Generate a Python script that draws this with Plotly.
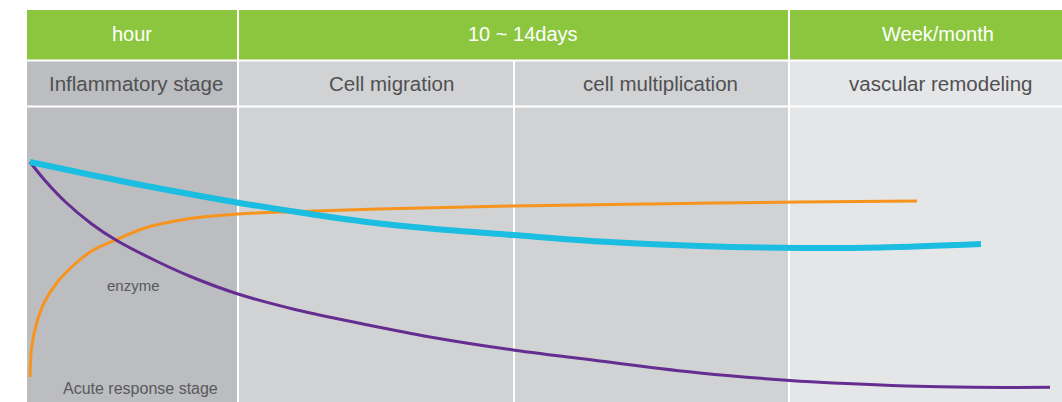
import plotly.graph_objects as go

# ---- data (x = timeline position, y = level, screen-like units) ----
header_labels = ["hour", "10 ~ 14days", "Week/month"]
header_bounds = [27, 238, 789, 1062]
header_label_x = [132, 523, 938]
stage_labels = ["Inflammatory stage", "Cell migration", "cell multiplication", "vascular remodeling"]
stage_bounds = [27, 238, 514, 789, 1062]
stage_label_x = [136, 391, 660, 940]
body_colors = ["#bcbdc0", "#d1d2d4", "#d1d2d4", "#e5e6e8"]
row_colors = ["#bcbdc0", "#d1d2d4", "#d1d2d4", "#e5e6e8"]

cyan_x = [30, 91.7, 158.3, 238.3, 297, 363, 430, 513, 600, 700, 800, 880, 981]
cyan_y = [162, 175, 188.3, 202.7, 212, 221.5, 228.5, 235, 241.5, 246, 248, 247.5, 244]

orange_x = [30, 31.7, 36.7, 45, 58.3, 75, 91.7, 116.7, 145, 191.7, 238, 300, 400, 513, 650, 800, 917]
orange_y = [377, 347, 323, 301, 281, 264, 251, 239.5, 228, 218.3, 214, 211.5, 208.5, 206, 204, 202, 201]

purple_x = [30, 45, 65, 91.7, 116.7, 158.3, 191.7, 238, 297, 363, 430, 513, 600, 700,
            790, 840, 906.7, 973, 1050]
purple_y = [162, 180.5, 201.5, 224, 240.5, 262, 277, 294, 310, 324, 337, 350, 361, 373,
            380.5, 383.3, 386, 387.3, 387.3]

notes = ["enzyme", "Acute response stage"]
notes_x = [133, 140]
notes_y = [285, 388]
notes_size = [15, 16]

FONT = "Liberation Sans, Arial, Helvetica, sans-serif"

fig = go.Figure()

shapes = []
for i in range(len(header_labels)):
    shapes.append(dict(type="rect", xref="x", yref="y", x0=header_bounds[i], x1=header_bounds[i + 1],
                       y0=10, y1=60, fillcolor="#8cc63f", line=dict(width=0), layer="below"))
for i in range(len(stage_labels)):
    shapes.append(dict(type="rect", xref="x", yref="y", x0=stage_bounds[i], x1=stage_bounds[i + 1],
                       y0=61, y1=106, fillcolor=row_colors[i], line=dict(width=0), layer="below"))
    shapes.append(dict(type="rect", xref="x", yref="y", x0=stage_bounds[i], x1=stage_bounds[i + 1],
                       y0=107, y1=402, fillcolor=body_colors[i], line=dict(width=0), layer="below"))
for b in stage_bounds[1:-1]:
    shapes.append(dict(type="line", xref="x", yref="y", x0=b, x1=b, y0=61, y1=402,
                       line=dict(color="white", width=2), layer="below"))
for b in header_bounds[1:-1]:
    shapes.append(dict(type="line", xref="x", yref="y", x0=b, x1=b, y0=10, y1=61,
                       line=dict(color="white", width=2), layer="below"))
for yb in [60.5, 106.5]:
    shapes.append(dict(type="line", xref="x", yref="y", x0=27, x1=1062, y0=yb, y1=yb,
                       line=dict(color="white", width=2), layer="below"))

fig.add_trace(go.Scatter(x=orange_x, y=orange_y, mode="lines",
                         line=dict(color="#f7941d", width=3, shape="spline", smoothing=1.0),
                         hoverinfo="skip"))
fig.add_trace(go.Scatter(x=purple_x, y=purple_y, mode="lines",
                         line=dict(color="#662d91", width=3, shape="spline", smoothing=1.0),
                         hoverinfo="skip"))
fig.add_trace(go.Scatter(x=cyan_x, y=cyan_y, mode="lines",
                         line=dict(color="#1bbde0", width=6, shape="spline", smoothing=1.0),
                         hoverinfo="skip"))

annots = []
for lab, x in zip(header_labels, header_label_x):
    annots.append(dict(x=x, y=34, xref="x", yref="y", text=lab, showarrow=False,
                       font=dict(family=FONT, size=20, color="white")))
for lab, x in zip(stage_labels, stage_label_x):
    annots.append(dict(x=x, y=83, xref="x", yref="y", text=lab, showarrow=False,
                       font=dict(family=FONT, size=20.5, color="#505052")))
for t, x, y, s in zip(notes, notes_x, notes_y, notes_size):
    annots.append(dict(x=x, y=y, xref="x", yref="y", text=t, showarrow=False,
                       font=dict(family=FONT, size=s, color="#58595b")))

fig.update_layout(
    width=1062, height=402,
    shapes=shapes, annotations=annots, showlegend=False,
    margin=dict(l=0, r=0, t=0, b=0),
    paper_bgcolor="white", plot_bgcolor="white",
    xaxis=dict(range=[0, 1062], visible=False, fixedrange=True),
    yaxis=dict(range=[402, 0], visible=False, fixedrange=True),
)
fig.write_html("out.html", config={"displayModeBar": False},
               post_script="document.body.style.margin='0';document.body.style.overflow='hidden';")
